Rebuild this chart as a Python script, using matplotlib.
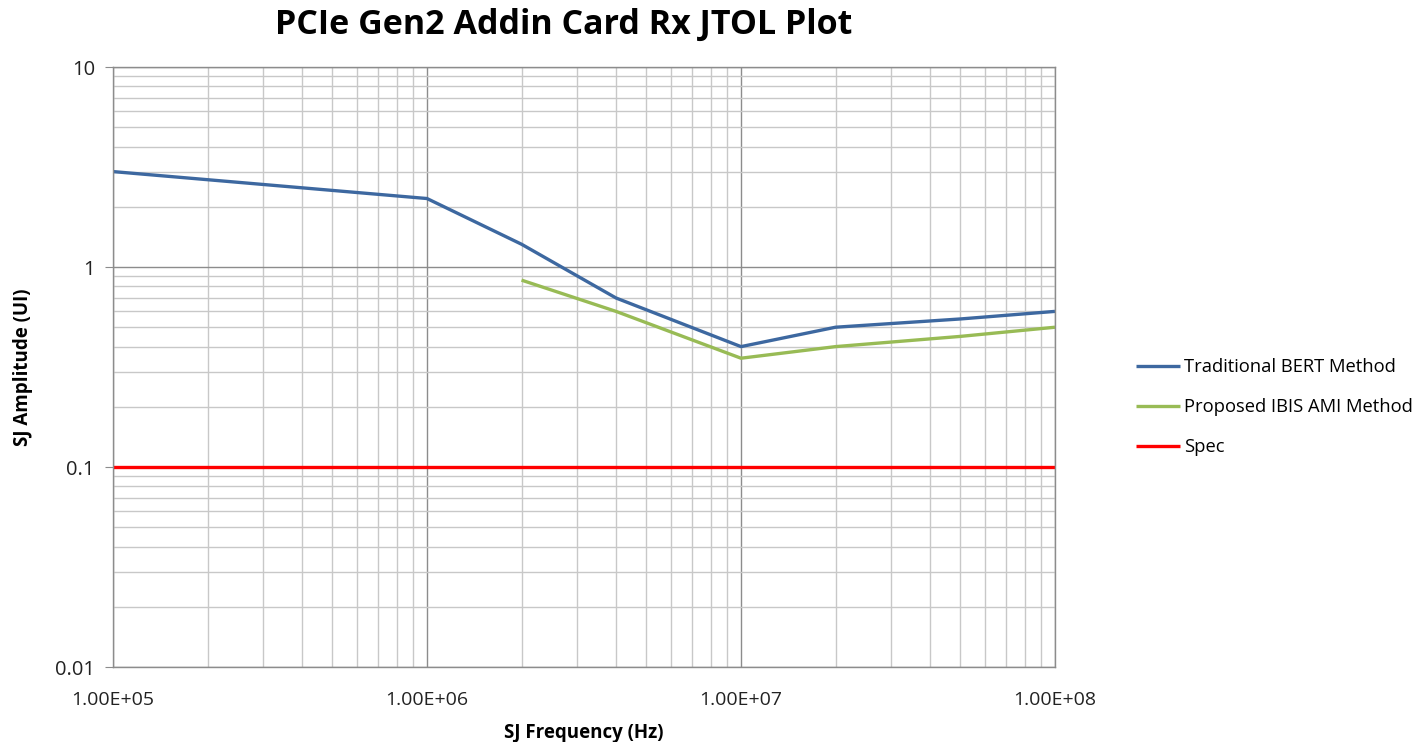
import numpy as np
import matplotlib.pyplot as plt
from matplotlib.ticker import LogLocator, FixedLocator, NullFormatter

# ---- data
bert_freq = [1e5, 1e6, 2e6, 4e6, 1e7, 2e7, 5e7, 1e8]
bert_amp = [3.0, 2.2, 1.3, 0.7, 0.4, 0.5, 0.55, 0.6]

ami_freq = [2e6, 4e6, 1e7, 2e7, 5e7, 1e8]
ami_amp = [0.86, 0.6, 0.35, 0.4, 0.45, 0.5]

spec_freq = [1e5, 1e8]
spec_amp = [0.1, 0.1]

x_ticks = [1e5, 1e6, 1e7, 1e8]
x_labels = ["1.00E+05", "1.00E+06", "1.00E+07", "1.00E+08"]
y_ticks = [0.01, 0.1, 1, 10]
y_labels = ["0.01", "0.1", "1", "10"]

plt.rcParams['font.family'] = ['Open Sans', 'DejaVu Sans']

fig = plt.figure(figsize=(14.27, 7.42), dpi=100)
ax = fig.add_axes([0.0792, 0.101, 0.6601, 0.8087])

ax.plot(bert_freq, bert_amp, color='#3d68a0', lw=2.4, label='Traditional BERT Method', solid_capstyle='butt')
ax.plot(ami_freq, ami_amp, color='#98bb55', lw=2.4, label='Proposed IBIS AMI Method', solid_capstyle='butt')
ax.plot(spec_freq, spec_amp, color='#ff0000', lw=2.4, label='Spec', solid_capstyle='butt')

ax.set_xscale('log')
ax.set_yscale('log')
ax.set_xlim(1e5, 1e8)
ax.set_ylim(0.01, 10)

ax.xaxis.set_major_locator(FixedLocator(x_ticks))
ax.set_xticklabels(x_labels)
ax.yaxis.set_major_locator(FixedLocator(y_ticks))
ax.set_yticklabels(y_labels)
ax.xaxis.set_minor_locator(LogLocator(base=10, subs=np.arange(2, 10), numticks=20))
ax.yaxis.set_minor_locator(LogLocator(base=10, subs=np.arange(2, 10), numticks=20))
ax.xaxis.set_minor_formatter(NullFormatter())
ax.yaxis.set_minor_formatter(NullFormatter())

# grid: darker majors, lighter minors
ax.grid(which='major', color='#8c8c8c', lw=1.0)
ax.grid(which='minor', color='#c8c8c8', lw=1.0)
ax.set_axisbelow(True)

for s in ax.spines.values():
    s.set_color('#8c8c8c')
    s.set_linewidth(1.0)

ax.tick_params(axis='x', which='both', length=0, pad=17, labelsize=14, labelcolor='#222222')
ax.tick_params(axis='y', which='major', length=6, color='#8c8c8c', pad=7, labelsize=14.5, labelcolor='#222222')
ax.tick_params(axis='y', which='minor', length=0)

ax.set_xlabel('SJ Frequency (Hz)', fontsize=13.5, fontweight='bold', labelpad=10)
ax.set_ylabel('SJ Amplitude (UI)', fontsize=13.5, fontweight='bold', labelpad=16)

fig.suptitle('PCIe Gen2 Addin Card Rx JTOL Plot', x=0.395, y=0.99, fontsize=24.5, fontweight='bold', va='top')

ax.legend(loc='center left', bbox_to_anchor=(1.068, 0.433), frameon=False, fontsize=13.2,
          handlelength=2.4, handletextpad=0.25, labelspacing=1.2)

fig.savefig('out.png', dpi=100)
